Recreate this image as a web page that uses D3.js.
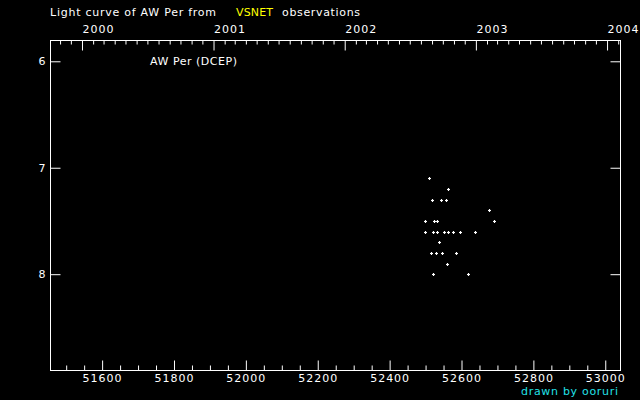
<!DOCTYPE html>
<html>
<head>
<meta charset="utf-8">
<script src="https://cdn.jsdelivr.net/npm/d3@7"></script>
<style>
  html, body { margin: 0; padding: 0; background: #000; }
  svg { display: block; }
  text { font-family: "DejaVu Sans", sans-serif; }
</style>
</head>
<body>
<svg id="chart" width="640" height="400"></svg>
<script>
// ---- data ----
const mjd = [52510, 52563, 52519, 52544, 52558, 52677, 52499, 52524, 52533, 52691,
             52499, 52522, 52533, 52552, 52563, 52577, 52597, 52638, 52538, 52516,
             52529, 52547, 52586, 52560, 52522, 52619];
const mag = [7.1, 7.2, 7.3, 7.3, 7.3, 7.4, 7.5, 7.5, 7.5, 7.5,
             7.6, 7.6, 7.6, 7.6, 7.6, 7.6, 7.6, 7.6, 7.7, 7.8,
             7.8, 7.8, 7.8, 7.9, 8.0, 8.0];
const mjdTicks = [51600, 51800, 52000, 52200, 52400, 52600, 52800, 53000];
const yearLabels = ["2000", "2001", "2002", "2003", "2004"];
const magTicks = [6, 7, 8];
const starName = "AW Per (DCEP)";

// ---- layout ----
const L = 50, R = 620, T = 40, B = 370;
const svg = d3.select("#chart");
svg.append("rect").attr("width", 640).attr("height", 400).attr("fill", "#000");

const x = d3.scaleLinear().domain([51455, 53041]).range([L, R]);
const y = d3.scaleLinear().domain([5.8, 8.9]).range([T, B]);

const toMJD = d => d.getTime() / 86400000 + 40587;
const [d0, d1] = x.domain();
const minorX = d3.range(51500, 53041, 50).filter(v => v >= d0 && v <= d1 && !mjdTicks.includes(v));
const yearMJD = yearLabels.map(s => toMJD(new Date(Date.UTC(+s, 0, 1))));
const monthMJD = d3.utcMonth.range(new Date(Date.UTC(1999, 9, 1)), new Date(Date.UTC(2004, 2, 1)))
  .map(toMJD).filter(v => v >= d0 && v <= d1 && !yearMJD.includes(v));

function style(g) {
  g.select(".domain").remove();
  g.selectAll("line").attr("stroke", "#fff").attr("stroke-width", 1);
  g.selectAll("text").attr("fill", "#fff").attr("font-size", 11)
    .attr("font-family", "DejaVu Sans, sans-serif");
}

// bottom axis (MJD)
svg.append("g").attr("transform", `translate(0,${B + 0.5})`)
  .call(d3.axisBottom(x).tickValues(minorX).tickSize(-5).tickSizeOuter(0).tickFormat(""))
  .call(style);
svg.append("g").attr("transform", `translate(0,${B + 0.5})`)
  .call(d3.axisBottom(x).tickValues(mjdTicks).tickSize(-10).tickSizeOuter(0).tickPadding(4).tickFormat(d3.format("d")))
  .call(style)
  .call(g => g.selectAll("text").attr("letter-spacing", 1));

// top axis (years)
svg.append("g").attr("transform", `translate(0,${T + 0.5})`)
  .call(d3.axisTop(x).tickValues(monthMJD).tickSize(-4).tickSizeOuter(0).tickFormat(""))
  .call(style);
svg.append("g").attr("transform", `translate(0,${T + 0.5})`)
  .call(d3.axisTop(x).tickValues(yearMJD).tickSize(-10).tickSizeOuter(0).tickPadding(8)
    .tickFormat((d, i) => yearLabels[i]))
  .call(style)
  .call(g => g.selectAll("text").attr("text-anchor", "start").attr("letter-spacing", 1));

// left / right axes (magnitude)
svg.append("g").attr("transform", `translate(${L + 0.5},0)`)
  .call(d3.axisLeft(y).tickValues(magTicks).tickSize(-10).tickSizeOuter(0).tickPadding(5).tickFormat(d3.format("d")))
  .call(style);
svg.append("g").attr("transform", `translate(${R + 0.5},0)`)
  .call(d3.axisRight(y).tickValues(magTicks).tickSize(-10).tickSizeOuter(0).tickFormat(""))
  .call(style);

// frame
svg.append("rect").attr("x", L + 0.5).attr("y", T + 0.5).attr("width", R - L).attr("height", B - T)
  .attr("fill", "none").attr("stroke", "#fff").attr("stroke-width", 1);

// points (plus markers)
const pts = svg.append("g");
const data = mjd.map((m, i) => ({ m, v: mag[i] }));
pts.selectAll("path").data(data).enter().append("path")
  .attr("d", d => {
    const cx = Math.round(x(d.m)) + 0.5, cy = Math.round(y(d.v)) + 0.5;
    return `M${cx - 1.5},${cy}H${cx + 1.5}M${cx},${cy - 1.5}V${cy + 1.5}`;
  })
  .attr("stroke", "#fff").attr("stroke-width", 1.2).attr("fill", "none");

// titles
const title = svg.append("text").attr("y", 16).attr("font-size", 11);
svg.append("text").attr("x", 50).attr("y", 16).attr("font-size", 11).attr("fill", "#fff")
  .attr("textLength", 166).attr("lengthAdjust", "spacing").text("Light curve of AW Per from");
svg.append("text").attr("x", 236).attr("y", 16).attr("font-size", 11).attr("fill", "#ffff00")
  .attr("textLength", 37).attr("lengthAdjust", "spacing").text("VSNET");
svg.append("text").attr("x", 282).attr("y", 16).attr("font-size", 11).attr("fill", "#fff")
  .attr("textLength", 78).attr("lengthAdjust", "spacing").text("observations");

svg.append("text").attr("x", 150).attr("y", 65).attr("font-size", 11).attr("fill", "#fff")
  .attr("textLength", 87).attr("lengthAdjust", "spacing").text(starName);

svg.append("text").attr("x", 521).attr("y", 395).attr("font-size", 11).attr("fill", "#22e0e8")
  .attr("textLength", 97).attr("lengthAdjust", "spacing").text("drawn by ooruri");
</script>
</body>
</html>
